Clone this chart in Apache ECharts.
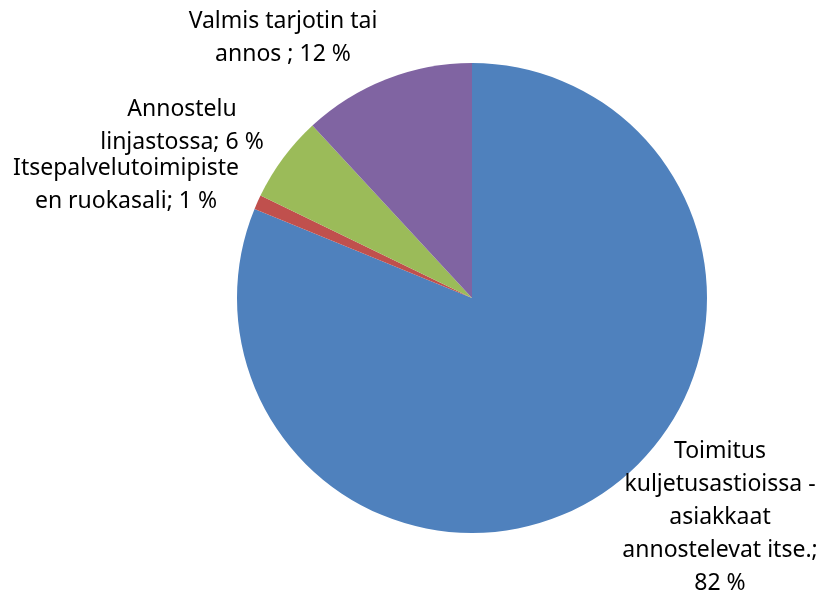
<!DOCTYPE html>
<html>
<head>
<meta charset="utf-8">
<script src="https://cdn.jsdelivr.net/npm/echarts@6/dist/echarts.min.js"></script>
<style>
  html, body { margin: 0; padding: 0; background: #fff; }
  #chart { width: 825px; height: 595px; }
</style>
</head>
<body>
<div id="chart"></div>
<script>
// jakelutapa - osuudet (%)
var categories = [
    'Toimitus\nkuljetusastioissa -\nasiakkaat\nannostelevat itse.',
    'Itsepalvelutoimipiste\nen ruokasali',
    'Annostelu\nlinjastossa',
    'Valmis tarjotin tai\nannos '
];
var values = [82, 1, 6, 12];
var colors = ['#4F81BD', '#C0504D', '#9BBB59', '#8064A2'];
// label centres, one per slice
var labelPos = [[720, 517], [126, 185], [182, 126], [283, 38]];

var chart = echarts.init(document.getElementById('chart'));

var option = {
    backgroundColor: '#fff',
    animation: false,
    color: colors,
    series: [
        {
            type: 'pie',
            center: [472, 298],
            radius: 235,
            startAngle: 90,
            clockwise: true,
            data: categories.map(function (name, i) {
                return { name: name, value: values[i] };
            }),
            itemStyle: {
                borderColor: '#fff',
                borderWidth: 0
            },
            label: {
                show: true,
                position: 'outside',
                formatter: function (p) {
                    return p.dataIndex === 0 ? p.name + ';\n' + p.value + ' %' : p.name + '; ' + p.value + ' %';
                },
                color: '#000',
                fontFamily: 'Noto Sans',
                fontSize: 23,
                lineHeight: 33,
                align: 'center',
                overflow: 'none'
            },
            labelLine: { show: false },
            labelLayout: function (params) {
                var pos = labelPos[params.dataIndex];
                return {
                    x: pos[0],
                    y: pos[1],
                    align: 'center',
                    verticalAlign: 'middle',
                    width: 300
                };
            },
            emphasis: { disabled: true }
        }
    ]
};
chart.setOption(option);
</script>
</body>
</html>
